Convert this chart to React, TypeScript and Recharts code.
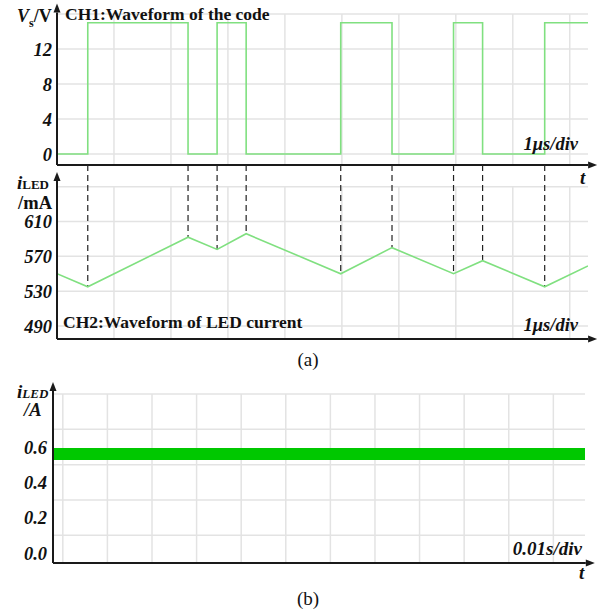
import React from 'react';
import { ComposedChart, Line, Area, XAxis, YAxis, CartesianGrid, ReferenceLine } from 'recharts';

// CH1 / CH2 traces, sampled at the switching instants (µs)
const switchTimes = [0, 0.54, 2.3, 2.81, 3.32, 4.98, 5.88, 6.96, 7.47, 8.56, 9.32];
const gateVolts = [0, 15, 0, 15, 0, 15, 0, 15, 0, 15, 15];
const ledCurrent = [550, 535, 592, 578, 596, 550, 580, 550, 565, 535, 559];

const voltTicks = [0, 4, 8, 12];
const voltGrid = [0, 2, 4, 6, 8, 10, 12, 14, 16];
const currentTicks = [490, 530, 570, 610];
const currentGrid = [490, 510, 530, 550, 570, 590, 610, 630, 650];
const usGrid = [1, 2, 3, 4, 5, 6, 7, 8, 9];

// (b) long time scale, ms
const avgTimes = [0, 30, 60, 90, 119.3];
const avgLow = [0.526, 0.526, 0.526, 0.526, 0.526];
const avgHigh = [0.594, 0.594, 0.594, 0.594, 0.594];
const ampTicks = [0, 0.2, 0.4, 0.6];
const ampGrid = [0, 0.1, 0.2, 0.3, 0.4, 0.5, 0.6, 0.7, 0.8, 0.9];
const msGrid = [2.2, 12.2, 22.2, 32.2, 42.2, 52.2, 62.2, 72.2, 82.2, 92.2, 102.2, 112.2];

const SERIF = '"Liberation Serif", "Times New Roman", serif';
const GRID = '#e3e3e3';
const TRACE = '#80e080';
const AXIS = '#1a1a1a';

const tickStyle = { fontFamily: SERIF, fontStyle: 'italic', fontWeight: 700, fontSize: 18.5, fill: '#111' };

const wave = switchTimes.map((t, i) => ({ t, v: gateVolts[i], i: ledCurrent[i] }));
const avg = avgTimes.map((t, i) => ({ t, band: [avgLow[i], avgHigh[i]] }));

// axis line with arrow head at its far end
const arrowShape = (p: any) => {
  const { x1, y1, x2, y2 } = p;
  const dx = x2 - x1, dy = y2 - y1;
  const len = Math.hypot(dx, dy) || 1;
  const ux = dx / len, uy = dy / len;
  const bx = x2 - ux * 9, by = y2 - uy * 9;
  const px = -uy * 3.5, py = ux * 3.5;
  return (
    <g>
      <line x1={x1} y1={y1} x2={bx} y2={by} stroke={AXIS} strokeWidth={2} />
      <polygon points={`${x2},${y2} ${bx + px},${by + py} ${bx - px},${by - py}`} fill={AXIS} />
    </g>
  );
};

const Txt = ({ x, y, size = 18, right = false, center = false, italic = false, bold = true, children }: any) => (
  <div
    style={{
      position: 'absolute',
      left: right || center ? undefined : x,
      right: right ? 605 - x : undefined,
      top: y - size / 2,
      ...(center ? { left: x - 40, width: 80, textAlign: 'center' as const } : {}),
      fontFamily: SERIF,
      fontSize: size,
      lineHeight: 1,
      fontWeight: bold ? 700 : 400,
      fontStyle: italic ? 'italic' : 'normal',
      color: '#111',
      whiteSpace: 'nowrap',
    }}
  >
    {children}
  </div>
);

const VoltChart = () => (
  <ComposedChart width={605} height={175} data={wave} margin={{ top: 14, right: 17, bottom: 10, left: 0 }}>
    <CartesianGrid stroke={GRID} strokeWidth={1.5} horizontalValues={voltGrid} verticalValues={usGrid} />
    <XAxis type="number" dataKey="t" domain={[0, 9.32]} allowDataOverflow hide />
    <YAxis type="number" domain={[-1.25, 16]} allowDataOverflow ticks={voltTicks} width={57}
      axisLine={false} tickLine={false} tickSize={3} tickMargin={2} tick={tickStyle} />
    <Line type="stepAfter" dataKey="v" stroke={TRACE} strokeWidth={1.6} dot={false} isAnimationActive={false} />
    <ReferenceLine segment={[{ x: 0, y: -1.25 }, { x: 9.48, y: -1.25 }]} ifOverflow="visible" shape={arrowShape} />
    <ReferenceLine segment={[{ x: 0, y: -1.25 }, { x: 0, y: 17.2 }]} ifOverflow="visible" shape={arrowShape} />
  </ComposedChart>
);

const CurrentChart = () => (
  <ComposedChart width={605} height={200} data={wave} margin={{ top: 15, right: 17, bottom: 11, left: 0 }}>
    <CartesianGrid stroke={GRID} strokeWidth={1.5} horizontalValues={currentGrid} vertical={false} />
    <XAxis type="number" dataKey="t" domain={[0, 9.32]} allowDataOverflow hide />
    <YAxis type="number" domain={[475, 675]} allowDataOverflow ticks={currentTicks} width={57}
      axisLine={false} tickLine={false} tickSize={3} tickMargin={2} tick={tickStyle} />
    {usGrid.map((t) => (
      <ReferenceLine key={`g${t}`} segment={[{ x: t, y: 650 }, { x: t, y: 475 }]} stroke={GRID} strokeWidth={1.5} />
    ))}
    {switchTimes.slice(1, -1).map((t, k) => (
      <ReferenceLine key={`d${k}`} segment={[{ x: t, y: 675 }, { x: t, y: ledCurrent[k + 1] }]}
        stroke="#222" strokeWidth={1.2} strokeDasharray="6 4" />
    ))}
    <Line type="linear" dataKey="i" stroke={TRACE} strokeWidth={1.6} dot={false} isAnimationActive={false} />
    <ReferenceLine segment={[{ x: 0, y: 475 }, { x: 9.48, y: 475 }]} ifOverflow="visible" shape={arrowShape} />
    <ReferenceLine segment={[{ x: 0, y: 475 }, { x: 0, y: 667 }]} ifOverflow="visible" shape={arrowShape} />
  </ComposedChart>
);

const AverageChart = () => (
  <ComposedChart width={605} height={200} data={avg} margin={{ top: 24, right: 20, bottom: 7, left: 0 }}>
    <CartesianGrid stroke={GRID} strokeWidth={1.5} horizontalValues={ampGrid} verticalValues={msGrid} />
    <XAxis type="number" dataKey="t" domain={[0, 119.3]} allowDataOverflow hide />
    <YAxis type="number" domain={[-0.057, 0.9]} allowDataOverflow ticks={ampTicks} width={53}
      axisLine={false} tickLine={false} tickSize={4} tickMargin={2} tick={tickStyle}
      tickFormatter={(v: number) => v.toFixed(1)} />
    <Area type="linear" dataKey="band" stroke="none" fill="#00c800" fillOpacity={1} isAnimationActive={false} />
    <ReferenceLine segment={[{ x: 0, y: -0.057 }, { x: 121.5, y: -0.057 }]} ifOverflow="visible" shape={arrowShape} />
    <ReferenceLine segment={[{ x: 0, y: -0.057 }, { x: 0, y: 0.968 }]} ifOverflow="visible" shape={arrowShape} />
  </ComposedChart>
);

export default function App() {
  return (
    <div style={{ position: 'absolute', left: 0, top: 0, width: 605, height: 613, background: '#fff', overflow: 'hidden' }}>
      <div style={{ position: 'absolute', left: 0, top: 0 }}><VoltChart /></div>
      <div style={{ position: 'absolute', left: 0, top: 150 }}><CurrentChart /></div>
      <div style={{ position: 'absolute', left: 0, top: 370 }}><AverageChart /></div>

      <Txt x={17} y={16} size={18}><i>V</i><sub style={{ fontSize: 12 }}>s</sub>/V</Txt>
      <Txt x={65} y={14.5} size={17.5}>CH1:Waveform of the code</Txt>
      <Txt x={578} y={144} size={18.5} right italic>1μs/div</Txt>
      <Txt x={580} y={177} size={19} italic>t</Txt>

      <Txt x={17} y={182} size={19} italic>i<span style={{ fontStyle: 'normal', fontSize: 13 }}>LED</span></Txt>
      <Txt x={52} y={203} size={18.5} right>/mA</Txt>
      <Txt x={63} y={323} size={17.5}>CH2:Waveform of LED current</Txt>
      <Txt x={578} y={325} size={18.5} right italic>1μs/div</Txt>
      <Txt x={308} y={359} size={19} center bold={false}>(a)</Txt>

      <Txt x={17} y={391} size={19} italic>i<span style={{ fontSize: 13 }}>LED</span></Txt>
      <Txt x={24} y={410} size={18.5} italic>/A</Txt>
      <Txt x={582} y={548} size={19} right italic>0.01s/div</Txt>
      <Txt x={579} y={572} size={19} italic>t</Txt>
      <Txt x={308} y={598} size={19} center bold={false}>(b)</Txt>
    </div>
  );
}
